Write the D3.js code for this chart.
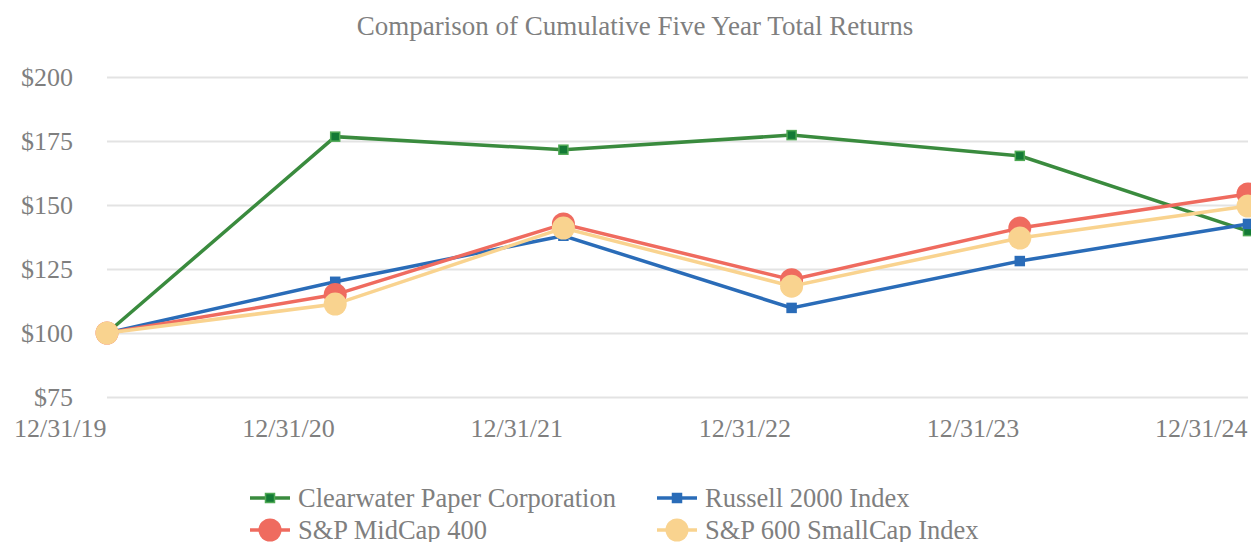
<!DOCTYPE html>
<html>
<head>
<meta charset="utf-8">
<script src="https://cdn.jsdelivr.net/npm/d3@7"></script>
<style>
  body { margin: 0; background: #fff; }
  svg { display: block; font-family: 'Liberation Serif', 'Times New Roman', serif; }
  .axis text { fill: #7f7f7f; font-family: 'Liberation Serif', 'Times New Roman', serif; }
  .grid line { stroke: #e3e3e3; stroke-width: 2; }
</style>
</head>
<body>
<div class="chart-container"></div>
<script>
// Data.
const dates = ['12/31/19', '12/31/20', '12/31/21', '12/31/22', '12/31/23', '12/31/24'];
const yTicks = [75, 100, 125, 150, 175, 200];

const clearwater = [100, 176.7, 171.6, 177.3, 169.2, 139.8];
const russell = [100, 120.0, 138.0, 109.8, 128.1, 142.6];
const midcap = [100, 115.0, 142.6, 120.8, 141.0, 154.3];
const smallcap = [100, 111.3, 141.0, 118.3, 137.1, 149.6];

const seriesNames = [
  'Clearwater Paper Corporation',
  'Russell 2000 Index',
  'S&P MidCap 400',
  'S&P 600 SmallCap Index',
];

// Series style (kept apart from values).
const series = [
  { name: seriesNames[0], values: clearwater, color: '#3a8b3e', marker: 'square', fill: '#137a35', stroke: '#4ea853' },
  { name: seriesNames[1], values: russell, color: '#2a6cb8', marker: 'square', fill: '#2a6cb8', stroke: '#2a6cb8' },
  { name: seriesNames[2], values: midcap, color: '#ef6b5f', marker: 'circle', fill: '#ef6b5f', stroke: '#ef6b5f' },
  { name: seriesNames[3], values: smallcap, color: '#f9d38f', marker: 'circle', fill: '#f9d38f', stroke: '#f9d38f' },
];

// Margin convention.
const W = 1251, H = 542;
const margin = { top: 77, right: 3, bottom: 145, left: 107 };
const width = W - margin.left - margin.right;
const height = H - margin.top - margin.bottom;

// Scales.
const xScale = d3.scalePoint().domain(dates).range([0, width]);
const yScale = d3.scaleLinear().domain([75, 200]).range([height, 0]);

// Draw base.
const svgRoot = d3.select('.chart-container')
  .append('svg')
  .attr('width', W)
  .attr('height', H);

const svg = svgRoot.append('g')
  .attr('transform', `translate(${margin.left},${margin.top})`);

// Title.
svgRoot.append('text')
  .attr('x', 635)
  .attr('y', 35)
  .attr('text-anchor', 'middle')
  .style('font-size', '27px')
  .style('fill', '#7f7f7f')
  .text('Comparison of Cumulative Five Year Total Returns');

// Grid lines.
svg.append('g')
  .attr('class', 'grid')
  .call(d3.axisLeft(yScale).tickValues(yTicks).tickSize(-width).tickFormat(''))
  .call(g => g.select('.domain').remove());

// Y axis.
svg.append('g')
  .attr('class', 'y axis')
  .call(d3.axisLeft(yScale).tickValues(yTicks).tickSize(0).tickPadding(34).tickFormat(d => `$${d}`))
  .call(g => g.select('.domain').remove())
  .selectAll('text')
  .style('font-size', '26px')
  .attr('dy', '0.32em');

// X axis, labels right-aligned to each date.
svg.append('g')
  .attr('class', 'x axis')
  .attr('transform', `translate(0,${height})`)
  .call(d3.axisBottom(xScale).tickSize(0).tickPadding(0))
  .call(g => g.select('.domain').remove())
  .selectAll('text')
  .style('font-size', '26px')
  .attr('text-anchor', 'end')
  .attr('x', -1)
  .attr('y', 40)
  .attr('dy', 0);

// Lines and markers.
const line = d3.line()
  .x((d, i) => xScale(dates[i]))
  .y(d => yScale(d));

const lines = svg.append('g').attr('class', 'lines');

series.forEach(s => {
  const g = lines.append('g');
  g.append('path')
    .datum(s.values)
    .attr('fill', 'none')
    .attr('stroke', s.color)
    .attr('stroke-width', 3.5)
    .attr('d', line);

  if (s.marker === 'square') {
    g.selectAll('rect')
      .data(s.values)
      .join('rect')
      .attr('x', (d, i) => xScale(dates[i]) - 4.5)
      .attr('y', d => yScale(d) - 4.5)
      .attr('width', 9)
      .attr('height', 9)
      .attr('fill', s.fill)
      .attr('stroke', s.stroke)
      .attr('stroke-width', 1.5);
  } else {
    g.selectAll('circle')
      .data(s.values)
      .join('circle')
      .attr('cx', (d, i) => xScale(dates[i]))
      .attr('cy', d => yScale(d))
      .attr('r', 11.5)
      .attr('fill', s.fill);
  }
});

// Legend.
const legendPos = [[250, 498], [657, 498], [250, 530], [657, 530]];
const legend = svgRoot.append('g').attr('class', 'legend');

series.forEach((s, i) => {
  const [lx, ly] = legendPos[i];
  const item = legend.append('g').attr('transform', `translate(${lx},${ly})`);
  item.append('line')
    .attr('x1', 0).attr('x2', 40)
    .attr('stroke', s.color)
    .attr('stroke-width', 3.5);
  if (s.marker === 'square') {
    item.append('rect')
      .attr('x', 15.5).attr('y', -4.5)
      .attr('width', 9).attr('height', 9)
      .attr('fill', s.fill)
      .attr('stroke', s.stroke)
      .attr('stroke-width', 1.5);
  } else {
    item.append('circle')
      .attr('cx', 20).attr('r', 11.5)
      .attr('fill', s.fill);
  }
  item.append('text')
    .attr('x', 48)
    .attr('dy', '0.34em')
    .style('font-size', '26.5px')
    .style('fill', '#7f7f7f')
    .text(s.name);
});
</script>
</body>
</html>
